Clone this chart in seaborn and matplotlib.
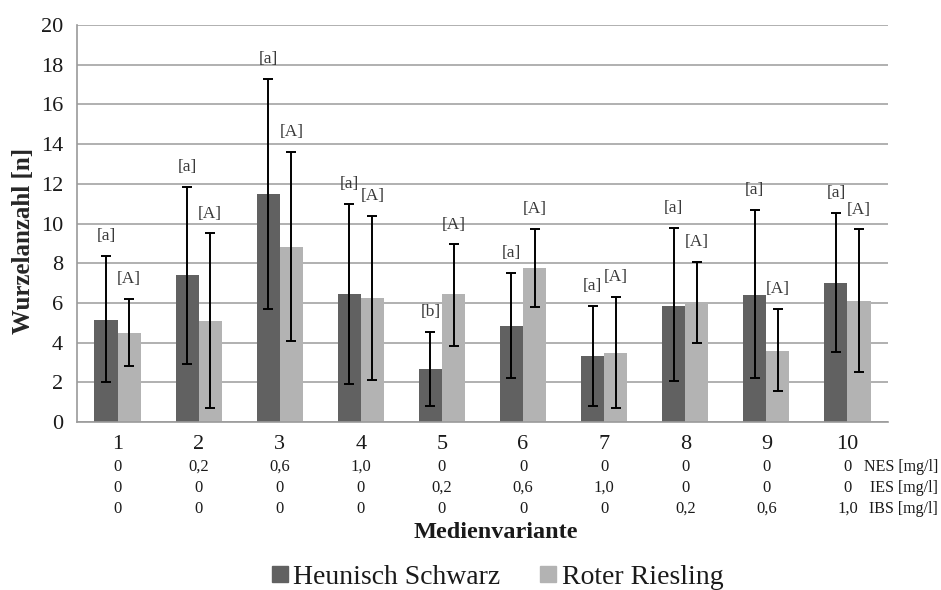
import numpy as np
import pandas as pd
import matplotlib
matplotlib.use("Agg")
import matplotlib.pyplot as plt
from matplotlib.lines import Line2D
import matplotlib.transforms as mtransforms
import seaborn as sns

# --- data -------------------------------------------------------------
variants = ["1", "2", "3", "4", "5", "6", "7", "8", "9", "10"]
nes = ["0", "0,2", "0,6", "1,0", "0", "0", "0", "0", "0", "0"]
ies = ["0", "0", "0", "0", "0,2", "0,6", "1,0", "0", "0", "0"]
ibs = ["0", "0", "0", "0", "0", "0", "0", "0,2", "0,6", "1,0"]

hs_mean = [5.15, 7.4, 11.5, 6.45, 2.65, 4.85, 3.33, 5.87, 6.42, 7.0]
hs_low = [2.0, 2.9, 5.7, 1.9, 0.8, 2.24, 0.83, 2.05, 2.22, 3.51]
hs_high = [8.35, 11.85, 17.3, 11.0, 4.55, 7.53, 5.87, 9.77, 10.67, 10.52]
hs_sig = ["[a]", "[a]", "[a]", "[a]", "[b]", "[a]", "[a]", "[a]", "[a]", "[a]"]

rr_mean = [4.5, 5.1, 8.8, 6.25, 6.45, 7.77, 3.5, 6.02, 3.6, 6.08]
rr_low = [2.8, 0.7, 4.1, 2.1, 3.85, 5.8, 0.71, 3.97, 1.56, 2.5]
rr_high = [6.2, 9.5, 13.6, 10.4, 8.95, 9.73, 6.32, 8.05, 5.68, 9.7]
rr_sig = ["[A]"] * 10

cultivars = ["Heunisch Schwarz", "Roter Riesling"]
colors = ["#616161", "#b3b3b3"]

df = pd.DataFrame({
    "Medienvariante": variants * 2,
    "Wurzelanzahl": hs_mean + rr_mean,
    "Sorte": [cultivars[0]] * 10 + [cultivars[1]] * 10,
})

# --- figure -----------------------------------------------------------
sns.set_theme(style="white")
plt.rcParams["font.family"] = ["Liberation Serif", "DejaVu Serif"]
plt.rcParams["text.color"] = "#1a1a1a"
plt.rcParams["xtick.color"] = "#1a1a1a"
plt.rcParams["ytick.color"] = "#1a1a1a"

fig = plt.figure(figsize=(9.41, 5.9), dpi=100)
ax = fig.add_axes([0.0818, 0.2847, 0.8619, 0.6729])

sns.barplot(data=df, x="Medienvariante", y="Wurzelanzahl", hue="Sorte",
            order=variants, hue_order=cultivars, palette=colors,
            width=0.57, errorbar=None, saturation=1, legend=False, ax=ax,
            zorder=2, linewidth=0)

# error bars and significance letters
n = len(variants)
series = [(hs_mean, hs_low, hs_high, hs_sig), (rr_mean, rr_low, rr_high, rr_sig)]
for k, (mean, low, high, sig) in enumerate(series):
    patches = ax.patches[k * n:(k + 1) * n]
    xs = [p.get_x() + p.get_width() / 2 for p in patches]
    mean = np.array(mean)
    yerr = [mean - np.array(low), np.array(high) - mean]
    ax.errorbar(xs, mean, yerr=yerr, fmt="none", ecolor="black",
                elinewidth=1.4, capsize=3.5, capthick=1.4, zorder=3)
    for x, h, s in zip(xs, high, sig):
        ax.text(x, h + 1.0, s, ha="center", va="center", fontsize=12.5,
                color="#3a3a3a")

# axes styling
ax.set_ylim(0, 20)
ax.set_xlim(-0.5, n - 0.5)
ax.set_yticks(np.arange(0, 21, 2))
ax.yaxis.grid(True, color="#a3a3a3", linewidth=1.2, zorder=0)
ax.set_axisbelow(True)
for side in ["top", "right"]:
    ax.spines[side].set_visible(False)
for side in ["left", "bottom"]:
    ax.spines[side].set_color("#9a9a9a")
    ax.spines[side].set_linewidth(1.2)

ax.tick_params(axis="y", which="major", direction="out", length=6,
               color="#9a9a9a", width=1.2, labelsize=16, pad=4)
ax.set_yticklabels([str(v) for v in range(0, 21, 2)])
ax.set_xticks(np.arange(n))
ax.set_xticks(np.arange(n + 1) - 0.5, minor=True)
ax.tick_params(axis="x", which="major", length=0, labelsize=16, pad=9)
ax.tick_params(axis="x", which="minor", direction="out", length=6,
               color="#9a9a9a", width=1.2)
ax.set_xticklabels(variants)

ax.set_xlabel("")
ax.set_ylabel("Wurzelanzahl [n]", fontsize=18, fontweight="bold")
ax.yaxis.set_label_coords(-0.052, 0.455)

# concentration rows under the category labels
trans = mtransforms.blended_transform_factory(ax.transData, fig.transFigure)
rows = [(nes, "NES [mg/l]"), (ies, "IES [mg/l]"), (ibs, "IBS [mg/l]")]
row_y = [1 - 467 / 590, 1 - 488 / 590, 1 - 509 / 590]
for (vals, unit), yy in zip(rows, row_y):
    for i, v in enumerate(vals):
        ax.text(i, yy, v, transform=trans, ha="center", va="center",
                fontsize=12)
    fig.text(0.997, yy, unit, ha="right", va="center", fontsize=11.5)

fig.text(0.527, 1 - 533 / 590, "Medienvariante", ha="center", va="center",
         fontsize=17.5, fontweight="bold")

handles = [Line2D([0], [0], marker="s", linestyle="none", markersize=11,
                  markerfacecolor=c, markeredgecolor=c) for c in colors]
fig.legend(handles, cultivars, loc="center", bbox_to_anchor=(0.527, 1 - 577 / 590),
           ncol=2, frameon=False, fontsize=20, handletextpad=0.1,
           columnspacing=1.3, handlelength=0.8)

fig.savefig("out.png", dpi=100)
